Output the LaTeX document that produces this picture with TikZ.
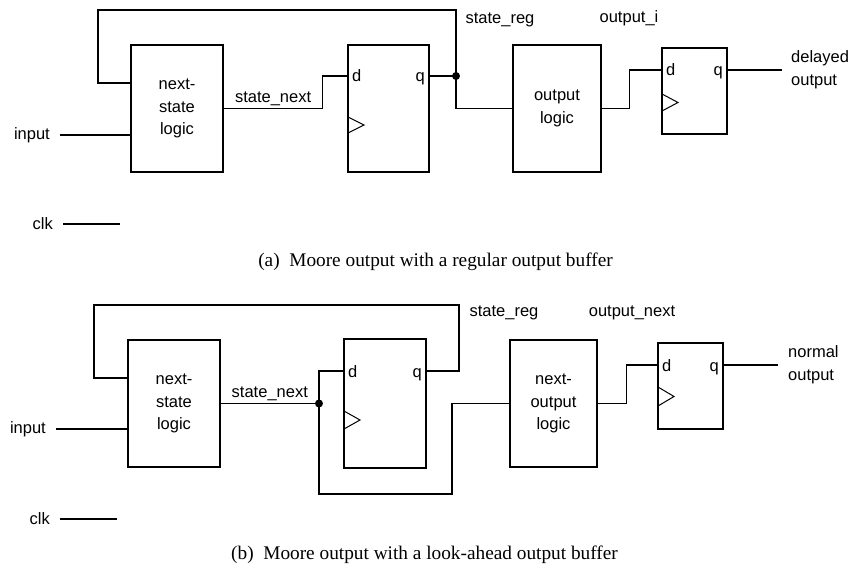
\documentclass[tikz,border=0pt]{standalone}
\usepackage{fontspec}
\setmainfont{Liberation Serif}
\newfontfamily\diagfont{Liberation Sans}

\begin{document}
\begin{tikzpicture}[x=1pt, y=-1pt,
  block/.style={draw, line width=1.2pt, inner sep=0pt, align=center,
    font=\diagfont\fontsize{16.5}{22.5}\selectfont},
  sig/.style={inner sep=2pt, align=left, font=\diagfont\fontsize{16.5}{23}\selectfont},
  pinlbl/.style={inner sep=4pt, text height=12pt, text depth=0pt,
    font=\diagfont\fontsize{16.5}{20}\selectfont},
  wire/.style={line width=1.2pt},
  clock/.style={line width=1pt, line join=miter},
  dot/.style={circle, fill, inner sep=0pt, minimum size=8pt},
  caption/.style={font=\fontsize{19.3}{22}\selectfont}
]
\useasboundingbox (0,0) rectangle (851,569);

% (a) regular output buffer
\node[block, minimum width=92pt, minimum height=127pt] (nsA) at (177,108.5) {next-\\state\\logic};
\node[block, minimum width=81pt, minimum height=127pt] (ffA) at (388.5,108.5) {};
\node[block, minimum width=88pt, minimum height=127pt] (olA) at (557,108.5) {output\\logic};
\node[block, minimum width=65pt, minimum height=86pt] (bufA) at (694.5,91) {};

\coordinate (ffA-d) at (348,76);
\coordinate (ffA-q) at (429,76);
\coordinate (bufA-d) at (662,70);
\coordinate (bufA-q) at (727,70);
\coordinate (nsA-fb) at (131,83);
\coordinate (clkA-end) at (120,224);

\node[pinlbl, right] at (ffA-d) {d};
\node[pinlbl, left] at (ffA-q) {q};
\node[pinlbl, right] at (bufA-d) {d};
\node[pinlbl, left] at (bufA-q) {q};
\draw[clock] (348,117) -- (364,125) -- (348,133);
\draw[clock] (662,94) -- (678,102.5) -- (662,111);

\node[dot] (joinA) at (456,76) {};
\node[sig, anchor=east, inner xsep=10pt] (inA) at (60,135) {input};
\node[sig, anchor=east, inner xsep=10pt] (clkA) at (63,224) {clk};
\node[sig, anchor=west, inner xsep=9pt] (outA) at (782,70) {delayed\\output};
\node[sig] (regA) at (500,20) {state\_reg};
\node[sig] (oiA) at (629,18) {output\_i};

\draw[wire] (inA) -- (inA -| nsA.west);
\draw[wire] (clkA) -- (clkA-end);
\draw[wire] (nsA.east) -- node[sig, above] {state\_next} ++(99,0) |- (ffA-d);
\draw[wire] (ffA-q) -- (joinA.center);
\draw[wire] (nsA-fb) -| (98,10) -| (joinA.center);
\draw[wire] (joinA.center) |- (olA.west);
\draw[wire] (olA.east) -- ++(28,0) |- (bufA-d);
\draw[wire] (bufA-q) -- (outA);

\node[caption] (capA) at (435.5,262) {(a)\enspace Moore output with a regular output buffer};

% (b) look-ahead output buffer
\node[block, minimum width=92pt, minimum height=127pt] (nsB) at (174,403.5) {next-\\state\\logic};
\node[block, minimum width=82pt, minimum height=129pt] (ffB) at (385,403.5) {};
\node[block, minimum width=87pt, minimum height=127pt] (nolB) at (553.5,403.5) {next-\\output\\logic};
\node[block, minimum width=65pt, minimum height=86pt] (bufB) at (690.5,386) {};

\coordinate (ffB-d) at (344,371);
\coordinate (ffB-q) at (426,371);
\coordinate (bufB-d) at (658,365);
\coordinate (bufB-q) at (723,365);
\coordinate (nsB-fb) at (128,378);
\coordinate (clkB-end) at (117,519);

\node[pinlbl, right] at (ffB-d) {d};
\node[pinlbl, left] at (ffB-q) {q};
\node[pinlbl, right] at (bufB-d) {d};
\node[pinlbl, left] at (bufB-q) {q};
\draw[clock] (344,411) -- (360,420) -- (344,429);
\draw[clock] (658,387) -- (674,396.5) -- (658,406);

\node[dot] (joinB) at (319,403.5) {};
\node[sig, anchor=east, inner xsep=10pt] (inB) at (56,429) {input};
\node[sig, anchor=east, inner xsep=10pt] (clkB) at (60,519) {clk};
\node[sig, anchor=west, inner xsep=10pt] (outB) at (778,365) {normal\\output};
\node[sig] (regB) at (504,313) {state\_reg};
\node[sig] (onB) at (632,313) {output\_next};

\draw[wire] (inB) -- (inB -| nsB.west);
\draw[wire] (clkB) -- (clkB-end);
\draw[wire] (nsB.east) -- node[sig, above] {state\_next} (joinB.center);
\draw[wire] (joinB.center) |- (ffB-d);
\draw[wire] (joinB.center) |- (452,494) |- (nolB.west);
\draw[wire] (nsB-fb) -| (94,305) -| (459,371) -- (ffB-q);
\draw[wire] (nolB.east) -- ++(29,0) |- (bufB-d);
\draw[wire] (bufB-q) -- (outB);

\node[caption] (capB) at (424.5,555) {(b)\enspace Moore output with a look-ahead output buffer};
\end{tikzpicture}
\end{document}
